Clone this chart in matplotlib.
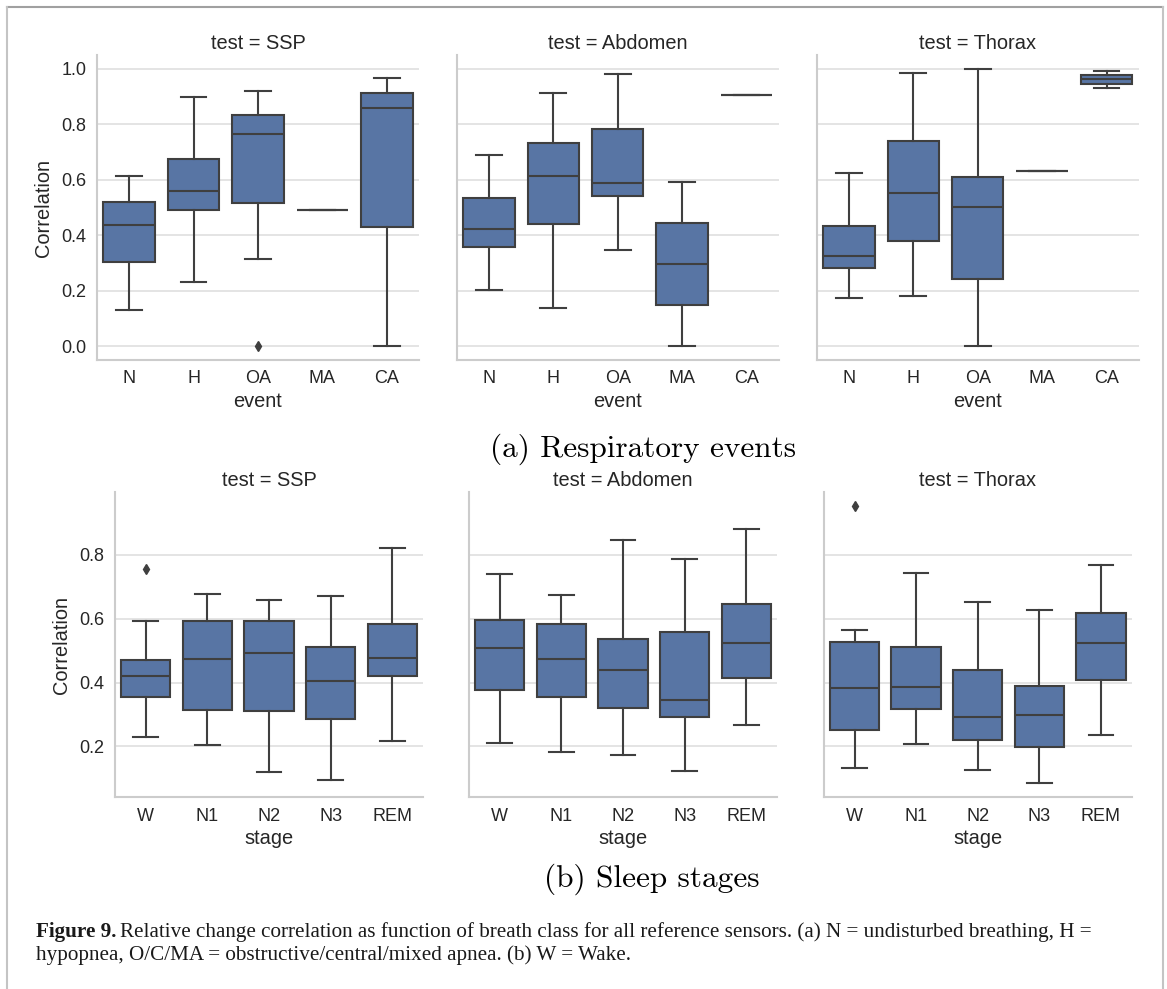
import matplotlib
matplotlib.use("Agg")
import matplotlib.pyplot as plt
from matplotlib.lines import Line2D

plt.rcParams["font.family"] = ["Liberation Sans", "DejaVu Sans"]

# ── Datos ─────────────────────────────────────────────────────────────────────
TESTS  = ["SSP", "Abdomen", "Thorax"]
EVENTS = ["N", "H", "OA", "MA", "CA"]
STAGES = ["W", "N1", "N2", "N3", "REM"]

# (bigote inf, q1, mediana, q3, bigote sup) por categoria
ssp_events = [
    (0.130, 0.302, 0.437, 0.521, 0.615),
    (0.232, 0.491, 0.558, 0.675, 0.899),
    (0.313, 0.517, 0.765, 0.835, 0.921),
    (0.491, 0.491, 0.491, 0.491, 0.491),
    (0.000, 0.428, 0.859, 0.912, 0.966),
]
abd_events = [
    (0.202, 0.357, 0.422, 0.533, 0.688),
    (0.139, 0.442, 0.612, 0.734, 0.914),
    (0.346, 0.541, 0.590, 0.783, 0.981),
    (0.000, 0.147, 0.295, 0.445, 0.593),
    (0.906, 0.906, 0.906, 0.906, 0.906),
]
tho_events = [
    (0.173, 0.281, 0.324, 0.434, 0.623),
    (0.181, 0.379, 0.552, 0.741, 0.986),
    (0.000, 0.242, 0.501, 0.611, 1.000),
    (0.631, 0.631, 0.631, 0.631, 0.631),
    (0.931, 0.947, 0.963, 0.979, 0.994),
]
ssp_events_out = [[], [], [0.0], [], []]
abd_events_out = [[], [], [], [], []]
tho_events_out = [[], [], [], [], []]

ssp_stages = [
    (0.229, 0.355, 0.420, 0.472, 0.594),
    (0.203, 0.313, 0.473, 0.593, 0.677),
    (0.119, 0.311, 0.494, 0.594, 0.658),
    (0.094, 0.286, 0.404, 0.512, 0.672),
    (0.217, 0.420, 0.476, 0.584, 0.821),
]
abd_stages = [
    (0.210, 0.378, 0.510, 0.595, 0.739),
    (0.184, 0.356, 0.475, 0.585, 0.675),
    (0.172, 0.320, 0.441, 0.536, 0.848),
    (0.123, 0.292, 0.344, 0.559, 0.786),
    (0.268, 0.416, 0.525, 0.645, 0.880),
]
tho_stages = [
    (0.132, 0.250, 0.384, 0.527, 0.566),
    (0.208, 0.318, 0.386, 0.511, 0.743),
    (0.126, 0.219, 0.293, 0.440, 0.653),
    (0.084, 0.198, 0.299, 0.389, 0.628),
    (0.235, 0.407, 0.525, 0.617, 0.768),
]
ssp_stages_out = [[0.756], [], [], [], []]
abd_stages_out = [[], [], [], [], []]
tho_stages_out = [[0.953], [], [], [], []]

EVENT_TICKS = [0.0, 0.2, 0.4, 0.6, 0.8, 1.0]
STAGE_TICKS = [0.2, 0.4, 0.6, 0.8]

# ── Estilo ────────────────────────────────────────────────────────────────────
BOX   = "#5875A4"
LINE  = "#3f3f3f"
GRID  = "#dcdcdc"
SPINE = "#cccccc"
TXT   = "#262626"

W, H = 1167, 989
fig = plt.figure(figsize=(W / 100, H / 100), dpi=100)
fig.patch.set_facecolor("white")


def add_ax(left, top, width, height):
    return fig.add_axes([left / W, 1 - (top + height) / H, width / W, height / H])


def panel(ax, stats, outliers, cats, ylim, ticks, title, xlabel, first):
    datos = [
        dict(whislo=lo, q1=q1, med=me, q3=q3, whishi=hi, fliers=o)
        for (lo, q1, me, q3, hi), o in zip(stats, outliers)
    ]
    ln = dict(color=LINE, linewidth=1.5)
    ax.bxp(
        datos, positions=range(len(cats)), widths=0.8, capwidths=0.4,
        patch_artist=True,
        boxprops=dict(facecolor=BOX, edgecolor=LINE, linewidth=1.5),
        medianprops=ln, whiskerprops=ln, capprops=ln,
        flierprops=dict(marker="d", markerfacecolor=LINE, markeredgecolor=LINE,
                        markersize=5, linestyle="none"),
    )
    ax.set_xlim(-0.5, len(cats) - 0.5)
    ax.set_ylim(*ylim)
    ax.set_xticks(range(len(cats)))
    ax.set_xticklabels(cats)
    ax.set_yticks(ticks)
    ax.set_yticklabels([f"{t:.1f}" for t in ticks])
    ax.yaxis.grid(True, color=GRID, linewidth=1.1)
    ax.xaxis.grid(False)
    ax.set_axisbelow(True)
    for s in ("top", "right"):
        ax.spines[s].set_visible(False)
    for s in ("left", "bottom"):
        ax.spines[s].set_color(SPINE)
        ax.spines[s].set_linewidth(1.5)
    ax.tick_params(length=0, pad=7.5, labelsize=13, colors=TXT, labelleft=first)
    ax.set_title(f"test = {title}", fontsize=14.4, color=TXT, pad=4.5)
    ax.set_xlabel(xlabel, fontsize=14.4, color=TXT, labelpad=3)
    if first:
        ax.set_ylabel("Correlation", fontsize=14.4, color=TXT, labelpad=6)


# fila (a): eventos respiratorios
top_lefts = [97, 456.7, 816.7]
ev_stats = [ssp_events, abd_events, tho_events]
ev_out = [ssp_events_out, abd_events_out, tho_events_out]
for i, (test, st, out) in enumerate(zip(TESTS, ev_stats, ev_out)):
    ax = add_ax(top_lefts[i], 55, 322, 305)
    panel(ax, st, out, EVENTS, (-0.05, 1.05), EVENT_TICKS, test, "event", i == 0)

# fila (b): etapas de sueño
bot_lefts = [115, 469, 823.7]
st_stats = [ssp_stages, abd_stages, tho_stages]
st_out = [ssp_stages_out, abd_stages_out, tho_stages_out]
for i, (test, st, out) in enumerate(zip(TESTS, st_stats, st_out)):
    ax = add_ax(bot_lefts[i], 492.3, 308, 305)
    panel(ax, st, out, STAGES, (0.0405, 0.9965), STAGE_TICKS, test, "stage", i == 0)

# subtitulos
fig.text(643 / W, 1 - 457 / H, "(a) Respiratory events", family="cmr10",
         fontsize=22.5, ha="center", va="baseline", color="black")
fig.text(652 / W, 1 - 887 / H, "(b) Sleep stages", family="cmr10",
         fontsize=22.5, ha="center", va="baseline", color="black")

# pie de figura
cap_kw = dict(family="Liberation Serif", fontsize=15.2, va="baseline", color="#1a1a1a")
t0 = fig.text(36 / W, 1 - 937 / H, "Figure 9.", fontweight="bold", **cap_kw)
fig.canvas.draw()
bb = t0.get_window_extent()
fig.text((bb.x1 + 4) / W, 1 - 937 / H,
         "Relative change correlation as function of breath class for all "
         "reference sensors. (a) N = undisturbed breathing, H =", **cap_kw)
fig.text(36 / W, 1 - 960 / H,
         "hypopnea, O/C/MA = obstructive/central/mixed apnea. (b) W = Wake.", **cap_kw)

# marco de la pagina
fig.add_artist(Line2D([7 / W, 1163 / W], [1 - 6.5 / H, 1 - 6.5 / H],
                      transform=fig.transFigure, color="#a0a0a0", linewidth=1.5))
for x in (7, 1163):
    fig.add_artist(Line2D([x / W, x / W], [0, 1 - 6.5 / H],
                          transform=fig.transFigure, color="#c4c4c4", linewidth=1.5))

fig.savefig("out.png", dpi=100)
plt.close(fig)
